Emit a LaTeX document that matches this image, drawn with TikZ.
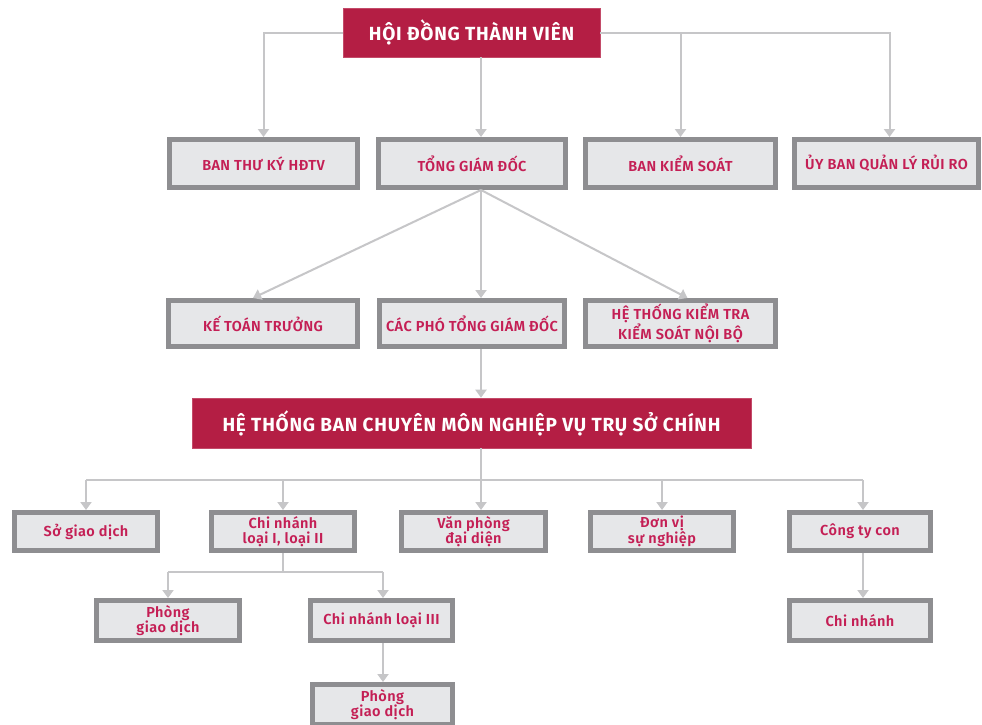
\documentclass[tikz,border=0pt]{standalone}
\usepackage{fontspec}
\setmainfont{Fira Sans}
\newfontfamily\labelfont{Fira Sans}[UprightFont=* SemiBold, BoldFont=* Bold]
\usetikzlibrary{arrows.meta}

\definecolor{crimson}{HTML}{B41E44}
\definecolor{labelred}{HTML}{C41F55}
\definecolor{boxfill}{HTML}{E6E7E9}
\definecolor{boxline}{HTML}{8E8E91}
\definecolor{wire}{HTML}{C6C6C8}

\tikzset{
  headbox/.style={fill=crimson, draw=crimson!80!white, line width=0.6pt,
    text=white, font=\labelfont\bfseries\fontsize{19}{21}\selectfont\addfontfeature{LetterSpace=4},
    minimum width=#1, minimum height=49pt, inner sep=0pt, align=center},
  unitbox/.style={fill=boxfill, draw=boxline, line width=5pt,
    text=labelred, font=\labelfont\fontsize{14.5}{15.5}\selectfont\addfontfeature{LetterSpace=3},
    minimum width=#1, inner sep=0pt, align=center},
  wireline/.style={draw=wire, line width=2pt},
  wirearrow/.style={wireline, -{Triangle[width=11pt,length=8pt]}},
}

\begin{document}
\begin{tikzpicture}[x=1pt,y=-1pt]
\clip (0,0) rectangle (982,724);
\fill[white] (0,0) rectangle (982,724);

% vertical trunk of the chart and the right-hand drop lines
\coordinate (trunk) at (481,0);
\coordinate (rdrop) at (863,0);
\coordinate (ldrop) at (383,0);

% ---------- boxes ----------
\node[headbox=257pt] (hdtv) at (471.5,32.5) {HỘI ĐỒNG THÀNH VIÊN};

\node[unitbox=188pt, minimum height=48pt] (btk)  at (263.5,163.5) {BAN THƯ KÝ HĐTV};
\node[unitbox=187pt, minimum height=48pt] (tgd)  at (472,163.5)   {TỔNG GIÁM ĐỐC};
\node[unitbox=190pt, minimum height=48pt] (bks)  at (680.5,163.5) {BAN KIỂM SOÁT};
\node[unitbox=184pt, minimum height=48pt] (qlrr) at (886.5,163.5) {ỦY BAN QUẢN LÝ RỦI RO};

\node[unitbox=189pt, minimum height=46pt] (ktt)  at (263,323.5)   {KẾ TOÁN TRƯỞNG};
\node[unitbox=185pt, minimum height=46pt] (cpt)  at (472,323.5)   {CÁC PHÓ TỔNG GIÁM ĐỐC};
\node[unitbox=190pt, minimum height=46pt] (ktks) at (680.5,323.5) {HỆ THỐNG KIỂM TRA\\KIỂM SOÁT NỘI BỘ};

\node[headbox=559pt, minimum height=50pt] (bcm) at (471.5,423) {HỆ THỐNG BAN CHUYÊN MÔN NGHIỆP VỤ TRỤ SỞ CHÍNH};

\node[unitbox=143pt, minimum height=38pt] (sgd) at (86,531.5)    {Sở giao dịch};
\node[unitbox=143pt, minimum height=38pt] (cn12) at (283,531.5)  {Chi nhánh\\loại I, loại II};
\node[unitbox=144pt, minimum height=38pt] (vpdd) at (473.5,531.5) {Văn phòng\\đại diện};
\node[unitbox=143pt, minimum height=38pt] (dvsn) at (662,531.5)  {Đơn vị\\sự nghiệp};
\node[unitbox=141pt, minimum height=38pt] (ctc) at (860,531.5)   {Công ty con};

\node[unitbox=143pt, minimum height=40pt] (pgd1) at (168,620.5)  {Phòng\\giao dịch};
\node[unitbox=142pt, minimum height=40pt] (cn3) at (381.5,620.5) {Chi nhánh loại III};
\node[unitbox=141pt, minimum height=40pt] (cnc) at (860,620.5)   {Chi nhánh};

\node[unitbox=140pt, minimum height=40pt] (pgd2) at (382.5,704.5) {Phòng\\giao dịch};

% ---------- connectors ----------
% Hội đồng thành viên to its four units
\draw[wirearrow] (hdtv.west) -| (btk.north);
\draw[wirearrow] (hdtv.south -| trunk) -- (tgd.north -| trunk);
\draw[wirearrow] (hdtv.east) -| ([xshift=3pt]qlrr.north);
\draw[wirearrow] (bks.north |- hdtv.east) -- (bks.north);

% Tổng giám đốc fanning out
\draw[wirearrow] (tgd.south -| trunk) -- ([xshift=-10pt]ktt.north);
\draw[wirearrow] (tgd.south -| trunk) -- (cpt.north -| trunk);
\draw[wirearrow] (tgd.south -| trunk) -- ([xshift=7pt]ktks.north);

% down to the head-office departments
\draw[wirearrow] (cpt.south -| trunk) -- (bcm.north -| trunk);

% bus under the departments
\coordinate (bus) at (0,480);
\draw[wireline] (bcm.south -| trunk) -- (bus -| trunk);
\draw[wireline] (bus -| sgd.north) -- (bus -| rdrop);
\draw[wirearrow] (bus -| sgd.north) -- (sgd.north);
\draw[wirearrow] (bus -| cn12.north) -- (cn12.north);
\draw[wirearrow] (bus -| trunk) -- (vpdd.north -| trunk);
\draw[wirearrow] (bus -| dvsn.north) -- (dvsn.north);
\draw[wirearrow] (bus -| rdrop) -- (ctc.north -| rdrop);

% branches of type I and II
\coordinate (split) at (0,572);
\draw[wireline] (cn12.south) -- (split -| cn12.south);
\draw[wireline] (split -| pgd1.north) -- (split -| ldrop);
\draw[wirearrow] (split -| pgd1.north) -- (pgd1.north);
\draw[wirearrow] (split -| ldrop) -- (cn3.north -| ldrop);
\draw[wirearrow] (cn3.south -| ldrop) -- (pgd2.north -| ldrop);

% subsidiary to its branch
\draw[wirearrow] (ctc.south -| rdrop) -- (cnc.north -| rdrop);

\end{tikzpicture}
\end{document}
